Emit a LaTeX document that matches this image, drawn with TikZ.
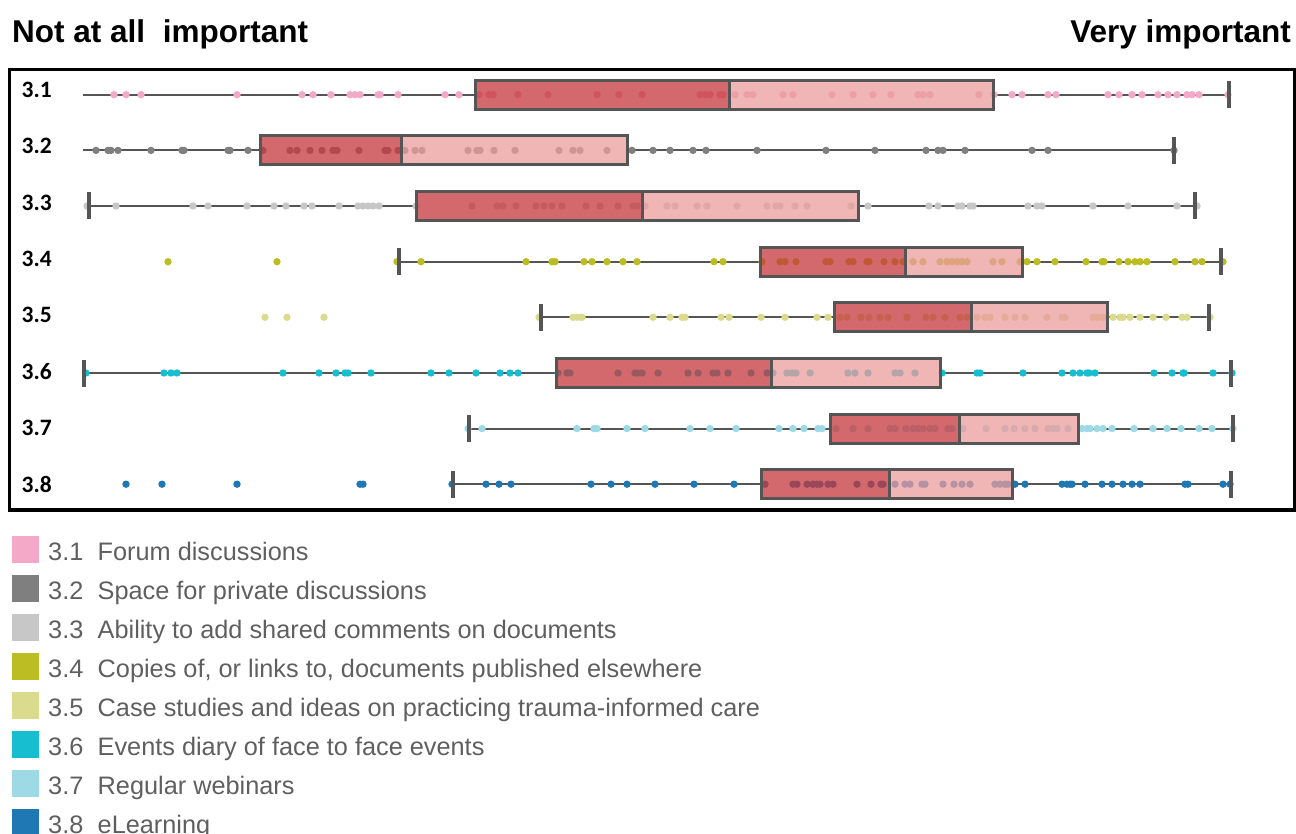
\documentclass[tikz,border=0pt]{standalone}
\usepackage{fontspec}
\setmainfont{Liberation Sans}
\newfontfamily\labfont{Carlito}
\definecolor{c31}{HTML}{F4A9C8}
\definecolor{c32}{HTML}{7F7F7F}
\definecolor{c33}{HTML}{C7C7C7}
\definecolor{c34}{HTML}{BCBD22}
\definecolor{c35}{HTML}{DBDB8D}
\definecolor{c36}{HTML}{17BECF}
\definecolor{c37}{HTML}{9EDAE5}
\definecolor{c38}{HTML}{1F77B4}
\definecolor{lowq}{RGB}{196,55,59}
\definecolor{highq}{RGB}{235,156,156}
\definecolor{edge}{HTML}{555555}
\definecolor{legtext}{HTML}{5F5F5F}

% one row: #1 y, #2 whisker start, #3 Q1, #4 median, #5 Q3, #6 whisker end, #7 colour, #8 values
\newcommand\statrow[8]{%
  \draw[whisk] (#2,#1) -- (#3,#1);
  \draw[whisk] (#5,#1) -- (#6,#1);
  \foreach \px in {#8} \fill[#7] (\px,#1) circle (3.7);
  \fill[lowq, fill opacity=.75] (#3,#1-14.5) rectangle (#4,#1+14.5);
  \fill[highq, fill opacity=.75] (#4,#1-14.5) rectangle (#5,#1+14.5);
  \draw[boxedge] (#3,#1-14.5) rectangle (#5,#1+14.5);
  \draw[boxedge] (#4,#1-14.5) -- (#4,#1+14.5);
}
\newcommand\capat[2]{\draw[wcap] (#1,#2-13.5) -- (#1,#2+13.5);}

\begin{document}
\begin{tikzpicture}[x=1pt,y=-1pt,
  whisk/.style={draw=edge, line width=2pt},
  boxedge/.style={draw=edge, line width=3pt},
  wcap/.style={draw=edge, line width=3.5pt},
  head/.style={inner sep=0pt, font=\bfseries\fontsize{31.5}{36}\selectfont},
  rowlab/.style={inner sep=0pt, anchor=base west, font=\labfont\bfseries\fontsize{23.5}{26}\selectfont},
  legkey/.style={inner sep=0pt, minimum size=27pt, draw=none},
  legnum/.style={inner sep=0pt, anchor=base west, text=legtext, font=\fontsize{25.3}{28}\selectfont},
]
\useasboundingbox (0,0) rectangle (1296,834);

% headings
\node[head, anchor=base west] (lowend) at (12,42.5) {Not at all\hspace{0.28em} important};
\node[head, anchor=base east] (highend) at (1291,42.5) {Very important};

% rows
\statrow{94.7}{83}{475}{729}{993}{1229}{c31}{114,126,141,237,302,313,331,350,355,360,378,380,398,445,459,479,489,493,518,548,597,619,642,700,705,710,720,723,735,747,753,783,793,832,853,873,891,918,923,930,979,994,1012,1022,1048,1056,1108,1119,1132,1142,1158,1168,1177,1187,1192,1199,1228}
\capat{1229}{94.7}

\statrow{150.4}{83}{260}{401}{627}{1174}{c32}{96,108,111,118,151,182,184,228,230,248,263,290,297,310,322,333,337,359,385,388,398,405,415,422,468,477,480,494,515,559,573,580,607,632,653,670,693,706,757,826,875,926,938,943,965,1032,1048,1174}
\capat{1174}{150.4}

\statrow{206}{89}{416}{642}{858}{1195}{c33}{87,116,193,208,247,274,286,304,312,339,358,363,368,373,379,416,472,497,503,516,536,544,552,562,586,600,618,633,637,645,667,675,697,707,737,767,776,780,795,807,851,868,929,938,958,962,970,973,1028,1037,1042,1093,1128,1177,1197}
\capat{89}{206}\capat{1195}{206}

\statrow{261.7}{399}{760}{905}{1022}{1221}{c34}{168,277,397,421,526,552,555,584,592,607,623,637,714,723,762,780,785,796,826,830,849,853,867,869,884,895,903,913,923,940,947,952,957,962,967,993,1002,1020,1027,1037,1055,1086,1102,1104,1119,1128,1135,1140,1147,1175,1195,1202,1223}
\capat{399}{261.7}\capat{1221}{261.7}

\statrow{317.3}{541}{834}{971}{1107}{1209}{c35}{265,287,324,539,573,577,581,582,653,670,682,685,721,729,761,785,817,828,840,847,861,869,880,888,907,926,933,945,960,967,977,985,990,1005,1015,1025,1047,1062,1065,1093,1098,1103,1113,1120,1123,1130,1140,1153,1166,1182,1187,1210}
\capat{541}{317.3}\capat{1209}{317.3}

\statrow{373}{84}{556}{771}{940}{1231}{c36}{86,164,171,177,283,319,336,345,348,371,431,449,476,500,510,518,558,567,570,618,635,638,642,658,688,698,713,717,728,751,767,773,787,792,796,810,848,855,868,895,900,915,942,977,980,1023,1062,1073,1080,1087,1089,1095,1154,1172,1183,1184,1213,1232}
\capat{84}{373}\capat{1231}{373}

\statrow{428.6}{469}{830}{959}{1078}{1233}{c37}{468,482,577,594,597,627,645,690,710,736,779,793,804,818,822,836,853,868,890,895,906,913,918,923,930,935,948,952,963,986,1005,1014,1025,1035,1048,1053,1057,1068,1082,1087,1090,1097,1103,1112,1134,1153,1167,1181,1199,1212,1233}
\capat{469}{428.6}\capat{1233}{428.6}

\statrow{484.2}{453}{761}{889}{1012}{1231}{c38}{126,162,237,360,363,452,486,499,511,591,611,627,655,694,734,765,793,797,807,813,817,820,828,833,857,871,881,883,895,905,910,922,925,943,954,962,970,995,1000,1005,1008,1015,1025,1062,1067,1070,1072,1085,1102,1112,1123,1132,1140,1185,1188,1223,1230}
\capat{453}{484.2}\capat{1231}{484.2}

% row labels
\foreach \i/\t in {1/3.1,2/3.2,3/3.3,4/3.4,5/3.5,6/3.6,7/3.7,8/3.8}
  \node[rowlab] (row\i) at (21.5,{97.3+56.4*(\i-1)}) {\t};

% frame
\draw[line width=3.5pt, black] (9.5,69.5) rectangle (1294.5,510);

% legend
\foreach \i/\c/\t in {1/c31/Forum discussions,
                      2/c32/Space for private discussions,
                      3/c33/Ability to add shared comments on documents,
                      4/c34/{Copies of, or links to, documents published elsewhere},
                      5/c35/Case studies and ideas on practicing trauma-informed care,
                      6/c36/Events diary of face to face events,
                      7/c37/Regular webinars,
                      8/c38/eLearning}{
  \node[legkey, fill=\c] (key\i) at (25.5,{549.5+39*(\i-1)}) {};
  \node[legnum] (num\i) at (48,{560+39*(\i-1)}) {3.\i};
  \node[legnum] (item\i) at (97.5,{560+39*(\i-1)}) {\t};
}
\end{tikzpicture}
\end{document}
